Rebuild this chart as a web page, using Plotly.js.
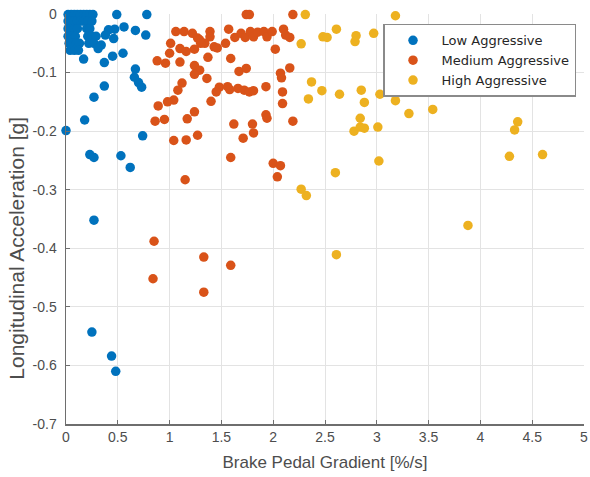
<!DOCTYPE html>
<html>
<head>
<meta charset="utf-8">
<script src="https://cdn.plot.ly/plotly-3.0.1.min.js"></script>
<style>html,body{margin:0;padding:0;background:#fff;}#chart{width:590px;height:477px;}</style>
</head>
<body>
<div id="chart"></div>
<script>
// Low Aggressive
var lowX = [0.02,0.05,0.08,0.11,0.14,0.17,0.20,0.23,0.26,
  0.02,0.05,0.08,0.11,0.14,0.17,0.21,0.25,
  0.02,0.05,0.08,0.11,0.20,0.23,
  0.02,0.05,0.09,0.21,0.25,0.29,
  0.03,0.06,0.10,0.13,0.22,0.27,
  0.04,0.08,0.12,
  0.49,0.78,0.56,0.67,0.77,0.47,0.41,0.38,0.46,0.34,0.31,0.55,0.45,0.37,0.17,
  0.67,0.66,0.70,0.73,0.37,0.27,0.18,0.00,0.74,0.23,0.27,0.53,0.62,0.27,0.25,0.44,0.48];
var lowY = [-0.001,-0.001,-0.001,-0.001,-0.001,-0.001,-0.001,-0.001,-0.001,
  -0.012,-0.012,-0.012,-0.012,-0.012,-0.012,-0.012,-0.012,
  -0.025,-0.025,-0.025,-0.025,-0.025,-0.025,
  -0.038,-0.038,-0.038,-0.038,-0.038,-0.038,
  -0.050,-0.050,-0.050,-0.050,-0.050,-0.050,
  -0.062,-0.062,-0.062,
  -0.001,-0.001,-0.022,-0.028,-0.036,-0.026,-0.027,-0.036,-0.042,-0.053,-0.059,-0.067,-0.072,-0.083,-0.077,
  -0.094,-0.108,-0.117,-0.125,-0.123,-0.142,-0.181,-0.199,-0.208,-0.240,-0.245,-0.242,-0.262,-0.352,-0.543,-0.584,-0.610];

// Medium Aggressive
var medX = [1.74,1.77,2.19,
  1.06,1.14,1.22,1.27,1.39,1.39,1.34,1.43,1.46,1.54,1.57,1.63,1.69,1.73,1.78,1.81,1.85,1.91,1.94,1.99,2.10,2.12,2.16,2.02,
  1.01,1.10,1.16,1.24,1.30,1.29,1.00,0.88,0.96,1.10,1.24,1.29,1.24,1.37,1.59,1.36,1.67,1.74,2.16,2.07,2.08,
  1.12,1.08,1.48,1.45,1.56,1.58,1.66,1.72,1.77,1.81,1.93,2.09,2.09,
  1.04,0.98,0.89,1.40,1.93,
  0.86,0.95,1.17,1.24,1.62,1.80,1.81,1.71,1.94,2.19,1.04,1.16,1.27,1.59,2.00,2.07,2.04,1.15,0.85,0.84,1.33,1.59,1.33];
var medY = [-0.001,-0.001,-0.001,
  -0.030,-0.030,-0.033,-0.041,-0.030,-0.039,-0.050,-0.056,-0.058,-0.050,-0.026,-0.040,-0.033,-0.040,-0.030,-0.039,-0.031,-0.030,-0.039,-0.030,-0.026,-0.036,-0.040,-0.060,
  -0.050,-0.059,-0.064,-0.060,-0.050,-0.044,-0.067,-0.080,-0.084,-0.082,-0.088,-0.096,-0.103,-0.074,-0.076,-0.110,-0.098,-0.093,-0.092,-0.101,-0.109,
  -0.118,-0.130,-0.125,-0.133,-0.124,-0.129,-0.127,-0.130,-0.133,-0.131,-0.124,-0.133,-0.153,
  -0.147,-0.150,-0.157,-0.149,-0.172,
  -0.183,-0.180,-0.179,-0.167,-0.188,-0.188,-0.203,-0.212,-0.178,-0.183,-0.216,-0.215,-0.207,-0.245,-0.255,-0.259,-0.278,-0.283,-0.388,-0.452,-0.415,-0.429,-0.475];

// High Aggressive
var highX = [2.31,3.18,2.48,2.52,2.61,2.80,2.79,2.97,2.27,2.37,2.47,2.64,2.85,2.88,3.03,2.34,3.18,3.31,3.54,2.84,2.78,2.84,2.88,3.01,3.02,2.60,2.27,2.32,3.88,2.61,4.36,4.33,4.28,4.60];
var highY = [-0.001,-0.003,-0.039,-0.040,-0.026,-0.037,-0.047,-0.033,-0.051,-0.116,-0.131,-0.137,-0.130,-0.151,-0.137,-0.145,-0.148,-0.170,-0.163,-0.178,-0.200,-0.193,-0.195,-0.193,-0.251,-0.271,-0.299,-0.310,-0.361,-0.411,-0.184,-0.198,-0.243,-0.240];

var xTickVals = [0,0.5,1,1.5,2,2.5,3,3.5,4,4.5,5];
var xTickText = ['0','0.5','1','1.5','2','2.5','3','3.5','4','4.5','5'];
var yTickVals = [0,-0.1,-0.2,-0.3,-0.4,-0.5,-0.6,-0.7];
var yTickText = ['0','-0.1','-0.2','-0.3','-0.4','-0.5','-0.6','-0.7'];

var seriesNames = ['Low Aggressive','Medium Aggressive','High Aggressive'];
var seriesColors = ['#0072BD','#D95319','#EDB120'];
var yTitle = 'Longitudinal Acceleration [g]';
var xTitle = 'Brake Pedal Gradient [%/s]';

function mk(x, y, i) {
  return {x: x, y: y, type: 'scatter', mode: 'markers', name: seriesNames[i],
    cliponaxis: false,
    marker: {color: seriesColors[i], size: 9.5, line: {width: 0}}};
}

var data = [mk(lowX, lowY, 0), mk(medX, medY, 1), mk(highX, highY, 2)];

var FF = 'Liberation Sans, Arial, sans-serif';
var axFont = {family: FF, size: 14, color: '#4d4d4d'};
var layout = {
  width: 590, height: 477,
  margin: {l: 66, r: 6, t: 14, b: 53},
  paper_bgcolor: '#fff', plot_bgcolor: '#fff',
  showlegend: true,
  font: {family: FF, color: '#333'},
  xaxis: {range: [0, 5], tickvals: xTickVals, ticktext: xTickText,
    showgrid: true, gridcolor: '#e3e3e3', gridwidth: 1,
    zeroline: false, showline: true, linecolor: '#6e6e6e', linewidth: 1.5,
    ticks: 'inside', ticklen: 4, tickcolor: '#6e6e6e',
    tickfont: axFont, ticklabelstandoff: 0,
    title: {text: xTitle, font: {family: FF, size: 17, color: '#4d4d4d'}, standoff: 12}},
  yaxis: {range: [-0.7, 0], tickvals: yTickVals, ticktext: yTickText,
    showgrid: true, gridcolor: '#e3e3e3', gridwidth: 1,
    zeroline: false, showline: true, linecolor: '#6e6e6e', linewidth: 1.5,
    ticks: 'inside', ticklen: 4, tickcolor: '#6e6e6e',
    tickfont: axFont, ticklabelstandoff: 5},
  annotations: [{text: yTitle, xref: 'paper', yref: 'paper', x: -0.0946, y: 0.43,
    xanchor: 'center', yanchor: 'middle', textangle: -90, showarrow: false,
    font: {family: FF, size: 21, color: '#4d4d4d'}}],
  legend: {x: 0.612, y: 0.976, xanchor: 'left', yanchor: 'top',
    bgcolor: '#fff', bordercolor: '#8a8a8a', borderwidth: 1.5,
    font: {family: 'DejaVu Sans, Liberation Sans, sans-serif', size: 13, color: '#262626'},
    itemwidth: 47, tracegroupgap: 0}
};

Plotly.newPlot('chart', data, layout, {displayModeBar: false, staticPlot: true});
</script>
</body>
</html>
